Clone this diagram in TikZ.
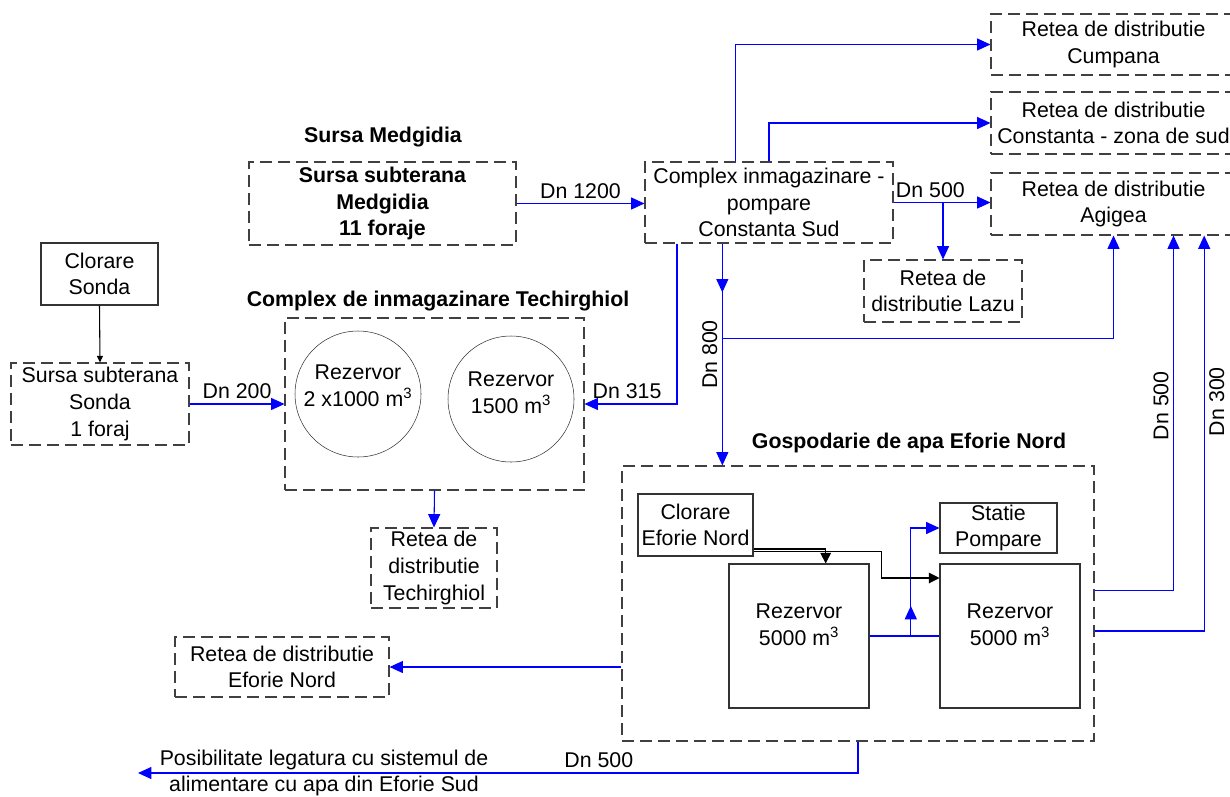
\documentclass[tikz,border=0pt]{standalone}
\usepackage{fontspec}
\setmainfont{Liberation Sans}
\usetikzlibrary{arrows,arrows.meta,positioning,calc,decorations.markings}

\begin{document}
\begin{tikzpicture}[x=0.75pt,y=-0.75pt,>={Triangle[length=10pt,width=9pt]},
  every node/.style={font=\fontsize{16}{20}\selectfont, align=center, text=black},
  wh/.style 2 args={minimum width=#1*0.75pt, minimum height=#2*0.75pt},
  dbox/.style={draw=black!75, dash pattern=on 9pt off 4.5pt, line width=0.8pt, inner sep=0pt},
  sbox/.style={draw=black!80, line width=0.8pt, inner sep=0pt},
  tank/.style={circle, draw=black!80, minimum size=94.5pt, inner sep=0pt},
  title/.style={font=\fontsize{16}{20}\selectfont\bfseries},
  pipe/.style={blue, line width=0.8pt},
  feed/.style={black, line width=0.8pt, >={Triangle[length=8pt,width=8pt]}},
  midarrow/.style={postaction={decorate}, decoration={markings,
    mark=at position #1 with {\arrow[blue]{Triangle[length=10pt,width=9pt]}}}}]
  \useasboundingbox (0,0) rectangle (1230,796);

  % retele de distributie
  \node (cumpana) [dbox, wh={245}{61}] at (1113.5,44.5) {Retea de distributie\\Cumpana};
  \node (constanta) [dbox, wh={245}{62}] at (1113.5,123) {Retea de distributie\\Constanta - zona de sud};
  \node (agigea) [dbox, wh={245}{62}] at (1113.5,204) {Retea de distributie\\Agigea};
  \node (lazu) [dbox, wh={158}{62}] at (943,291) {Retea de\\distributie Lazu};
  \node (techret) [dbox, wh={126}{80}] at (434,568) {Retea de\\distributie\\Techirghiol};
  \node (efret) [dbox, wh={214}{60}] at (282,667) {Retea de distributie\\Eforie Nord};

  % surse
  \node (tmedg) [title] at (383,137) {Sursa Medgidia};
  \node (medg) [dbox, wh={267}{83}, font=\fontsize{16}{20}\selectfont\bfseries] at (382.5,203.5) {Sursa subterana\\Medgidia\\11 foraje};
  \node (clsonda) [sbox, wh={117}{62}] at (99.5,274) {Clorare\\Sonda};
  \node (sonda) [dbox, wh={178}{82}] at (100,404) {Sursa subterana\\Sonda\\1 foraj};

  % complexe
  \node (csud) [dbox, wh={248}{81}] at (769,202.5) {Complex inmagazinare -\\pompare\\Constanta Sud};
  \node (ttech) [title] at (438,301) {Complex de inmagazinare Techirghiol};
  \node (tech) [dbox, wh={299}{172}] at (434.5,404) {};
  \node (tank1) [tank] at (358,394) {};
  \node (tank1t) at (358,386) {Rezervor\\2 x1000 m\textsuperscript{3}};
  \node (tank2) [tank] at (511,399) {};
  \node (tank2t) at (511,393) {Rezervor\\1500 m\textsuperscript{3}};

  % gospodarie Eforie Nord
  \node (tgosp) [title] at (909,443) {Gospodarie de apa Eforie Nord};
  \node (gosp) [dbox, wh={472}{275}] at (858,603.5) {};
  \node (clef) [sbox, wh={115}{62}] at (695.5,525) {Clorare\\Eforie Nord};
  \node (statie) [sbox, wh={117}{50}, font=\fontsize{16}{19}\selectfont] at (998.5,528) {Statie\\Pompare};
  \node (rez1) [sbox, wh={140}{144}] at (799,636) {};
  \node (rez1t) at (799,625) {Rezervor\\5000 m\textsuperscript{3}};
  \node (rez2) [sbox, wh={140}{144}] at (1010,636) {};
  \node (rez2t) at (1010,625) {Rezervor\\5000 m\textsuperscript{3}};

  \node (sudtxt) at (324,773) {Posibilitate legatura cu sistemul de\\alimentare cu apa din Eforie Sud};
  \coordinate (sud) at (138,773);

  % conducte
  \draw[pipe,->] (medg.east) -- node[above] {Dn 1200} (medg.east -| csud.west);
  \draw[pipe,->] ([xshift=-25pt]csud.north) |- (cumpana.west);
  \draw[pipe,->] (csud.north) |- (constanta.west);
  \draw[pipe,->] (csud.east) -- node[above, pos=0.38] {Dn 500} (csud.east -| agigea.west);
  \draw[pipe,->] (lazu.north |- csud.east) -- (lazu.north);
  \draw[pipe,->] ([xshift=-69pt]csud.south) |- node[above, pos=0.77] {Dn 315} (tech.east);
  \coordinate (d800) at ([xshift=-35pt]csud.south);
  \draw[pipe,->,midarrow=0.22] (d800) -- node[rotate=90, above] {Dn 800} (d800 |- gosp.north);
  \draw[pipe,->] ($(d800)+(0,95)$) -| (agigea.south);
  \draw[pipe,->] ([yshift=10pt]gosp.east) -| node[rotate=90, above, pos=0.76] {Dn 500} ([xshift=45pt]agigea.south);
  \draw[pipe,->] ([yshift=-20.6pt]gosp.east) -| node[rotate=90, below, pos=0.79] {Dn 300} ([xshift=68pt]agigea.south);
  \draw[pipe,->] (sonda.east) -- node[above] {Dn 200} (sonda.east -| tech.west);
  \draw[pipe,->] (tech.south) -- (techret.north);
  \draw[pipe,->] (gosp.west |- efret.east) -- (efret.east);
  \draw[pipe,->] (gosp.south) |- node[above, pos=0.68] {Dn 500} (sud);

  % interior gospodarie
  \draw[pipe] (rez1.east) -- (rez2.west);
  \coordinate (tee) at ($(rez1.east)!0.59!(rez2.west)$);
  \draw[pipe,->,midarrow=0.22] (tee) |- (statie.west);

  % clorare
  \draw[feed,->,>={Triangle[length=5pt,width=4.5pt]}] (clsonda.south) -- (sonda.north);
  \draw[feed,->] ([yshift=-18pt]clef.east) -| ([xshift=20pt]rez1.north);
  \draw[feed,->] ([yshift=-20pt]clef.east) -| ([xshift=-43.5pt,yshift=43.5pt]rez2.west) -- ([yshift=43.5pt]rez2.west);
\end{tikzpicture}
\end{document}
